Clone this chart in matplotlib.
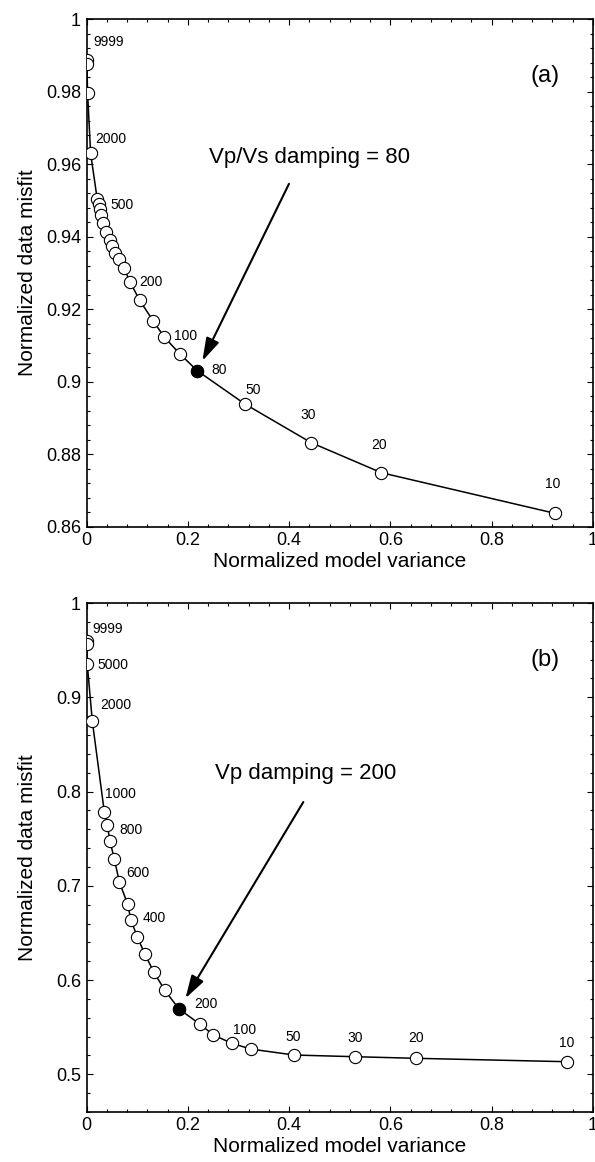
import matplotlib.pyplot as plt
from matplotlib.ticker import AutoMinorLocator, FormatStrFormatter, MultipleLocator

plt.rcParams['font.family'] = ['Liberation Sans', 'DejaVu Sans']

# (a) Vp/Vs trade-off curve
a_variance = [0.0010, 0.0006, 0.0020, 0.0080, 0.0211, 0.0239, 0.0265, 0.0290,
              0.0330, 0.0383, 0.0462, 0.0502, 0.0567, 0.0634, 0.0739, 0.0857,
              0.1046, 0.1320, 0.1530, 0.1840, 0.2190, 0.3122, 0.4434, 0.5823,
              0.9248]
a_misfit = [0.9888, 0.9877, 0.9796, 0.9630, 0.9503, 0.9490, 0.9476, 0.9460,
            0.9439, 0.9413, 0.9391, 0.9374, 0.9354, 0.9338, 0.9313, 0.9276,
            0.9225, 0.9167, 0.9124, 0.9077, 0.9030, 0.8939, 0.8832, 0.8749,
            0.8637]
a_labels = {0: '9999', 3: '2000', 6: '500', 15: '200', 18: '100', 20: '80',
            21: '50', 22: '30', 23: '20', 24: '10'}
a_chosen = 20

# (b) Vp trade-off curve
b_variance = [0.0003, 0.0002, 0.0014, 0.0113, 0.0350, 0.0410, 0.0460, 0.0550,
              0.0646, 0.0810, 0.0877, 0.1000, 0.1153, 0.1331, 0.1542, 0.1825,
              0.2244, 0.2506, 0.2869, 0.3244, 0.4096, 0.5300, 0.6505, 0.9480]
b_misfit = [0.9597, 0.9565, 0.9350, 0.8748, 0.7786, 0.7645, 0.7478, 0.7280,
            0.7043, 0.6807, 0.6637, 0.6460, 0.6273, 0.6082, 0.5894, 0.5693,
            0.5530, 0.5417, 0.5329, 0.5268, 0.5205, 0.5187, 0.5170, 0.5134]
b_labels = {0: '9999', 2: '5000', 3: '2000', 4: '1000', 6: '800', 8: '600',
            10: '400', 15: '200', 18: '100', 20: '50', 21: '30', 22: '20',
            23: '10'}
b_chosen = 15

# label offsets from the marker centre, in pixels (dx right, dy up)
a_offsets = {0: (6, 18), 3: (5, 14), 6: (10, 4), 15: (9, 0), 18: (10, 1),
             20: (14, 1), 21: (1, 14), 22: (-11, 28), 23: (-10, 28),
             24: (-10, 29)}
b_offsets = {0: (6, 12), 2: (10, -1), 3: (8, 16), 4: (1, 18), 6: (10, 11),
             8: (7, 9), 10: (12, 2), 15: (15, 5), 18: (1, 13), 20: (-9, 18),
             21: (-8, 19), 22: (-8, 20), 23: (-8, 19)}


def draw_curve(ax, var, misfit, labels, offsets, chosen, ylim, ymajor, tag,
               note, note_xy, arrow_from, shrink):
    ax.plot(var, misfit, color='black', lw=1.1, zorder=2)
    ax.plot(var, misfit, 'o', ms=8.8, mfc='white', mec='black', mew=0.8,
            zorder=3)
    ax.plot(var[chosen], misfit[chosen], 'o', ms=8.8, mfc='black', mec='black',
            mew=0.8, zorder=4)
    for i, text in labels.items():
        ax.annotate(text, (var[i], misfit[i]), xytext=offsets[i],
                    textcoords='offset pixels', ha='left', va='center',
                    fontsize=10)

    ax.annotate('', xy=(var[chosen], misfit[chosen]), xytext=arrow_from,
                arrowprops=dict(arrowstyle='-|>,head_length=1.0,head_width=0.3',
                                mutation_scale=14, lw=1.5, color='black',
                                shrinkA=0, shrinkB=shrink))
    ax.text(note_xy[0], note_xy[1], note, fontsize=16, ha='center',
            va='center')
    ax.text(0.905, 0.888, tag, transform=ax.transAxes, fontsize=17,
            ha='center', va='center')

    ax.set_xlim(0, 1)
    ax.set_ylim(*ylim)
    ax.xaxis.set_major_locator(MultipleLocator(0.2))
    ax.yaxis.set_major_locator(MultipleLocator(ymajor))
    ax.xaxis.set_minor_locator(AutoMinorLocator(5))
    ax.yaxis.set_minor_locator(AutoMinorLocator(5))
    ax.xaxis.set_major_formatter(FormatStrFormatter('%g'))
    ax.yaxis.set_major_formatter(FormatStrFormatter('%g'))
    ax.tick_params(which='both', direction='in', top=True, right=True,
                   width=0.8, labelsize=13)
    ax.tick_params(which='major', length=4.5)
    ax.tick_params(which='minor', length=2.5)
    ax.tick_params(axis='x', pad=3.5)
    ax.tick_params(axis='y', pad=4)
    for side in ax.spines.values():
        side.set_linewidth(1.2)
    ax.set_xlabel('Normalized model variance', fontsize=15, labelpad=2.5)
    ax.set_ylabel('Normalized data misfit', fontsize=15)
    ax.yaxis.set_label_coords(-0.098, 0.5)


fig = plt.figure(figsize=(5.95, 11.62), dpi=100)
ax_a = fig.add_axes([0.1455, 0.5467, 0.8511, 0.4367])
ax_b = fig.add_axes([0.1455, 0.0430, 0.8511, 0.4380])

draw_curve(ax_a, a_variance, a_misfit, a_labels, a_offsets, a_chosen,
           (0.86, 1.0), 0.02, '(a)', 'Vp/Vs damping = 80', (0.441, 0.962),
           (0.3997, 0.9546), 8)
draw_curve(ax_b, b_variance, b_misfit, b_labels, b_offsets, b_chosen,
           (0.46, 1.0), 0.1, '(b)', 'Vp damping = 200', (0.433, 0.8196),
           (0.428, 0.7889), 9)

fig.savefig('out.png', dpi=100)
